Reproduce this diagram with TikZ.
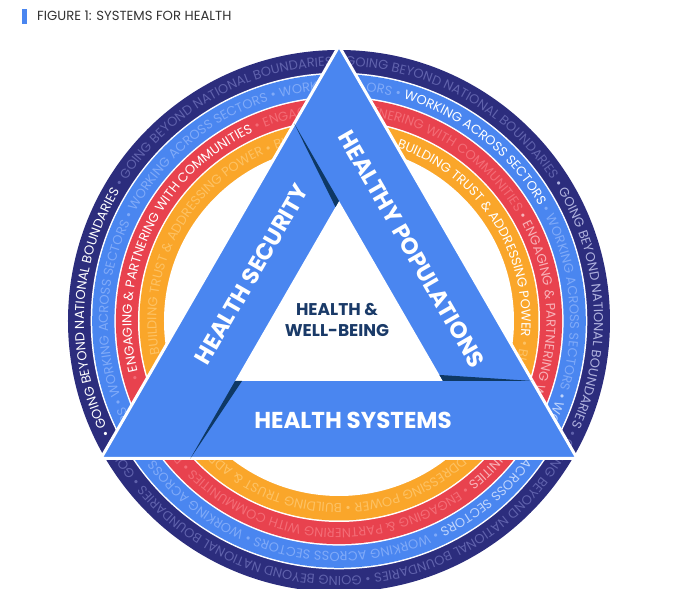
\documentclass[tikz,border=0pt]{standalone}
\usepackage{fontspec}
\setmainfont{Poppins}
\usepackage{tikz}
\usetikzlibrary{calc,decorations.text}
\definecolor{barblue}{RGB}{74,134,240}
\definecolor{wedgenavy}{RGB}{14,56,100}
\definecolor{ringdark}{RGB}{44,45,125}
\definecolor{ringblue}{RGB}{74,134,240}
\definecolor{ringred}{RGB}{232,66,78}
\definecolor{ringorange}{RGB}{250,166,42}
\definecolor{fadedark}{RGB}{96,98,172}
\definecolor{fadeblue}{RGB}{128,170,248}
\definecolor{fadered}{RGB}{243,108,118}
\definecolor{fadeorange}{RGB}{253,194,100}
\definecolor{palefadedark}{RGB}{176,178,222}
\definecolor{palefadeblue}{RGB}{190,212,252}
\definecolor{palefadered}{RGB}{248,178,184}
\definecolor{textnavy}{RGB}{26,58,104}
\definecolor{titlegray}{RGB}{50,50,50}
\newcommand\rf{\fontsize{13}{13}\selectfont}

\begin{document}
\begin{tikzpicture}[x=1pt,y=1pt]

    \tikzset{bartext/.style={text=white, inner sep=0pt, font=\bfseries\fontsize{23}{23}\selectfont}}
    \tikzset{ringtext/.style={decorate, decoration={text along path, text align={left indent=#1}}}}

    \useasboundingbox (-339,-268) rectangle (350,321);

    % TITLE
    \fill[barblue] (-317,297) rectangle (-312,312);
    \node(title) at (-302,305) [anchor=west, inner sep=0pt, text=titlegray, font=\fontsize{13.2}{13.2}\selectfont] {FIGURE 1: SYSTEMS FOR HEALTH};

    % RINGS
    \fill[ringdark] (0,0) circle (271);
    \fill[white] (0,0) circle (248.3);
    \fill[ringblue] (0,0) circle (246.8);
    \fill[white] (0,0) circle (224.6);
    \fill[ringred] (0,0) circle (223.1);
    \fill[white] (0,0) circle (201);
    \fill[ringorange] (0,0) circle (199.5);
    \fill[white] (0,0) circle (175);

    % RING TEXTS
    % going beyond national boundaries
    \path[ringtext=16pt, decoration={text={|\rf\color{white}|{\textbullet} GOING BEYOND NATIONAL BOUNDARIES |\rf\color{fadedark}|{\textbullet} GOING BEYOND NATIONAL BOUNDARIES {\textbullet} GOING BEYOND NATIONAL BOUNDARIES |\rf\color{palefadedark}|{\textbullet} GOING BEYOND NATIONAL BOUNDARIES |\rf\color{fadedark}|{\textbullet} GOING BEYOND NATIONAL BOUNDARIES {\textbullet} GOING BEYOND NATIONAL BOUNDARIES {\textbullet} GOING BEYOND NATIONAL BOUNDARIES }}]
        (210:255) arc[start angle=210, end angle=-150, radius=255];
    % working across sectors
    \path[ringtext=27pt, decoration={text={|\rf\color{fadeblue}|ORS {\textbullet} |\rf\color{white}|WORKING ACROSS SECTORS |\rf\color{fadeblue}|{\textbullet} WORKING ACROSS SECTORS |\rf\color{palefadeblue}|{\textbullet} WORKING ACROSS SECTORS |\rf\color{fadeblue}|{\textbullet} WORKING ACROSS SECTORS {\textbullet} WORKING ACROSS SECTORS {\textbullet} WORKING ACROSS SECTORS {\textbullet} WORKING ACROSS SECTORS {\textbullet} WORKING ACROSS SECTORS {\textbullet} WORKING ACROSS SECTORS }}]
        (90:231) arc[start angle=90, end angle=-270, radius=231];
    % engaging & partnering
    \path[ringtext=49pt, decoration={text={|\rf\color{fadered}|{\textbullet} |\rf\color{white}|ENGAGING {\&} PARTNERING WITH COMMUNITIES |\rf\color{fadered}|{\textbullet} ENGAGING {\&} PARTNERING WITH COMMUNITIES |\rf\color{palefadered}|{\textbullet} ENGAGING {\&} PARTNERING WITH COMMUNITIES |\rf\color{fadered}|{\textbullet} ENGAGING {\&} PARTNERING WITH COMMUNITIES {\textbullet} ENGAGING {\&} PARTNERING WITH COMMUNITIES }}]
        (210:207.5) arc[start angle=210, end angle=-150, radius=207.5];
    % building trust
    \path[ringtext=50pt, decoration={text={|\rf\color{fadeorange}|{\textbullet} |\rf\color{white}|BUILDING TRUST {\&} ADDRESSING POWER |\rf\color{fadeorange}|{\textbullet} BUILDING TRUST {\&} ADDRESSING POWER {\textbullet} BUILDING TRUST {\&} ADDRESSING POWER {\textbullet} BUILDING TRUST {\&} ADDRESSING POWER {\textbullet} BUILDING TRUST {\&} ADDRESSING POWER }}]
        (90:182.5) arc[start angle=90, end angle=-270, radius=182.5];

    % TRIANGLE
    \coordinate (top) at (90:275);
    \coordinate (bl) at (210:275);
    \coordinate (br) at (330:275);
    \coordinate (itop) at (90:120);
    \coordinate (ibl) at (210:120);
    \coordinate (ibr) at (330:120);
    % ends of the bars
    \coordinate (cpop) at (-17.23:202.51);
    \coordinate (csys) at (-137.23:202.51);
    \coordinate (csec) at (102.77:202.51);

    \filldraw[fill=barblue, draw=white, line width=3] (top) -- (br) -- (bl) -- cycle;
    \fill[white] (itop) -- (ibr) -- (ibl) -- cycle;

    % SHADOWS
    \fill[wedgenavy] (cpop) -- (ibr) -- ($(ibr)!7pt!(itop)$) -- cycle;
    \fill[wedgenavy] (csys) -- (ibl) -- ($(ibl)!7pt!(ibr)$) -- cycle;
    \fill[wedgenavy] (csec) -- (itop) -- ($(itop)!7pt!(ibl)$) -- cycle;

    % LABELS
    \node(sec) at ($(150:99)+(60:-3)$) [bartext, rotate=60] {HEALTH SECURITY};
    \node(pop) at ($(30:99)+(-60:-26)$) [bartext, rotate=-60] {HEALTHY POPULATIONS};
    \node(sys) at ($(270:99)+(0:14)$) [bartext] {HEALTH SYSTEMS};
    \node(core) at (-2,1) [align=center, text=textnavy, font=\bfseries\fontsize{17}{21.5}\selectfont] {HEALTH \&\\WELL-BEING};

\end{tikzpicture}
\end{document}
